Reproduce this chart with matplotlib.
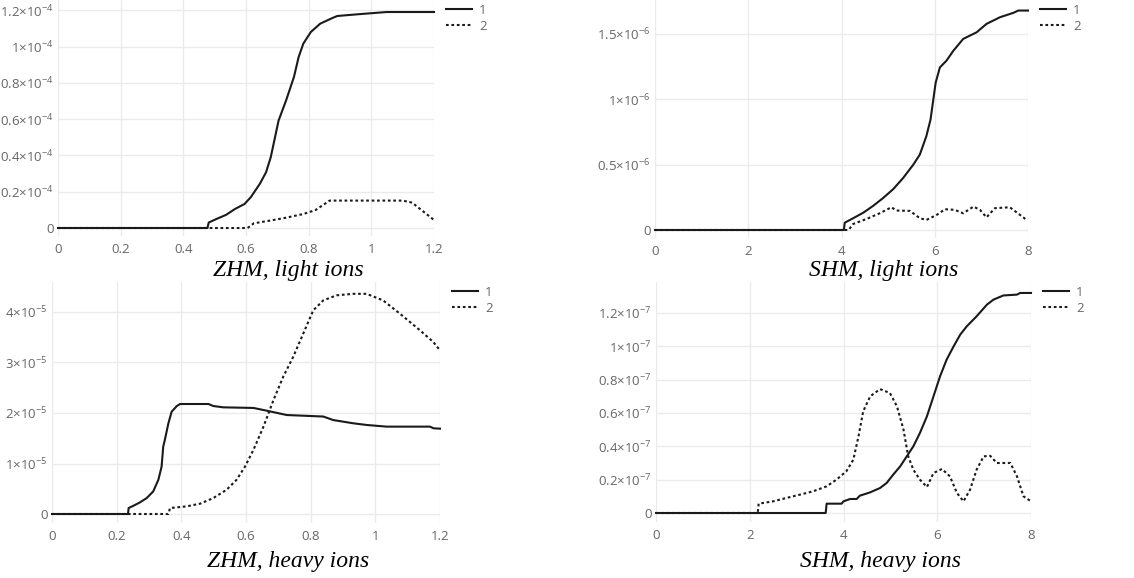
import numpy as np
import matplotlib
matplotlib.use("Agg")
import matplotlib.pyplot as plt

plt.rcParams['font.family'] = ['Open Sans', 'DejaVu Sans']
plt.rcParams['mathtext.fontset'] = 'custom'
plt.rcParams['mathtext.rm'] = 'Open Sans'
plt.rcParams['mathtext.it'] = 'Open Sans:italic'
plt.rcParams['mathtext.bf'] = 'Open Sans:bold'

# ZHM, light ions (y in units of 1e-4)
zl_x1 = [0, 0.477, 0.481, 0.506, 0.536, 0.565, 0.595, 0.615, 0.644, 0.664, 0.679, 0.704,
         0.728, 0.753, 0.768, 0.783, 0.807, 0.837, 0.872, 0.891, 0.96, 1.049, 1.2]
zl_y1 = [0, 0, 0.03, 0.05, 0.072, 0.105, 0.132, 0.169, 0.243, 0.307, 0.39, 0.592,
         0.703, 0.832, 0.942, 1.016, 1.08, 1.126, 1.154, 1.168, 1.178, 1.19, 1.19]
zl_x2 = [0, 0.605, 0.625, 0.664, 0.723, 0.783, 0.822, 0.867, 1.1, 1.13, 1.2]
zl_y2 = [0, 0, 0.026, 0.037, 0.055, 0.077, 0.099, 0.151, 0.151, 0.14, 0.044]

# SHM, light ions (y in units of 1e-6)
sl_x1 = [0, 4.05, 4.07, 4.25, 4.47, 4.68, 4.89, 5.11, 5.32, 5.54, 5.68, 5.82, 5.91, 5.97,
         6.02, 6.11, 6.25, 6.4, 6.61, 6.9, 7.11, 7.4, 7.69, 7.79, 8.0]
sl_y1 = [0, 0, 0.056, 0.09, 0.133, 0.185, 0.244, 0.313, 0.397, 0.5, 0.577, 0.718, 0.846, 1.0,
         1.128, 1.244, 1.295, 1.372, 1.462, 1.513, 1.577, 1.628, 1.662, 1.679, 1.679]
sl_x2 = [0, 4.15, 4.25, 4.54, 4.82, 5.07, 5.18, 5.47, 5.68, 5.82, 6.04, 6.22, 6.43, 6.61,
         6.83, 6.97, 7.11, 7.29, 7.61, 7.83, 7.97]
sl_y2 = [0, 0, 0.046, 0.085, 0.128, 0.174, 0.149, 0.146, 0.09, 0.077, 0.115, 0.159, 0.154,
         0.128, 0.179, 0.154, 0.097, 0.167, 0.174, 0.115, 0.077]

# ZHM, heavy ions (y in units of 1e-5)
zh_x1 = [0, 0.235, 0.237, 0.252, 0.272, 0.293, 0.313, 0.329, 0.339, 0.344, 0.349, 0.36, 0.37,
         0.386, 0.396, 0.484, 0.499, 0.53, 0.623, 0.664, 0.726, 0.839, 0.87, 0.932, 0.973,
         1.035, 1.169, 1.18, 1.2]
zh_y1 = [0, 0, 0.118, 0.164, 0.23, 0.316, 0.447, 0.678, 0.94, 1.335, 1.467, 1.796, 2.026,
         2.138, 2.178, 2.178, 2.138, 2.112, 2.1, 2.046, 1.96, 1.93, 1.86, 1.796, 1.763,
         1.73, 1.73, 1.697, 1.69]
zh_x2 = [0, 0.36, 0.365, 0.416, 0.458, 0.499, 0.54, 0.571, 0.597, 0.623, 0.654, 0.685, 0.715,
         0.746, 0.777, 0.808, 0.839, 0.88, 0.932, 0.973, 1.024, 1.076, 1.138, 1.179, 1.2]
zh_y2 = [0, 0, 0.118, 0.151, 0.204, 0.316, 0.48, 0.678, 0.94, 1.27, 1.73, 2.257, 2.717,
         3.112, 3.572, 4.033, 4.23, 4.33, 4.36, 4.36, 4.23, 3.967, 3.638, 3.408, 3.24]

# SHM, heavy ions (y in units of 1e-7)
sh_x1 = [0, 3.62, 3.64, 3.96, 4.0, 4.14, 4.28, 4.35, 4.57, 4.78, 4.92, 5.06, 5.21, 5.35, 5.49,
         5.63, 5.78, 5.92, 6.06, 6.2, 6.35, 6.49, 6.63, 6.84, 7.06, 7.2, 7.41, 7.7, 7.77, 8.0]
sh_y1 = [0, 0, 0.056, 0.056, 0.07, 0.084, 0.084, 0.104, 0.124, 0.15, 0.18, 0.23, 0.28, 0.34,
         0.4, 0.48, 0.58, 0.7, 0.82, 0.92, 1.0, 1.07, 1.12, 1.18, 1.25, 1.28, 1.305, 1.31,
         1.32, 1.32]
sh_x2 = [0, 2.17, 2.19, 2.5, 2.78, 3.07, 3.35, 3.64, 3.85, 4.06, 4.21, 4.32, 4.42, 4.57, 4.78,
         4.99, 5.14, 5.28, 5.38, 5.49, 5.63, 5.78, 5.92, 6.1, 6.27, 6.42, 6.56, 6.7, 6.84,
         6.99, 7.13, 7.27, 7.56, 7.7, 7.84, 8.0]
sh_y2 = [0, 0, 0.056, 0.07, 0.09, 0.11, 0.13, 0.16, 0.2, 0.25, 0.32, 0.46, 0.61, 0.7, 0.743,
         0.72, 0.64, 0.5, 0.34, 0.26, 0.2, 0.156, 0.24, 0.264, 0.22, 0.12, 0.07, 0.14, 0.26,
         0.34, 0.343, 0.3, 0.3, 0.22, 0.1, 0.07]

W, H = 1134, 578
fig = plt.figure(figsize=(W / 100, H / 100), dpi=100)

grey = '#666666'
serif = ['Liberation Serif', 'DejaVu Serif']


def make_panel(px0, px1, zero_px, top_px, bot_px, xmax, ticks_val, exp,
               xticks, xticklabels, px_per_unit, title, title_x, title_y,
               series, leg_x, leg_y):
    # axes placed in pixel coordinates
    ax = fig.add_axes([px0 / W, 1 - bot_px / H, (px1 - px0) / W, (bot_px - top_px) / H])
    ymax = (zero_px - top_px) / px_per_unit
    ymin = -(bot_px - zero_px) / px_per_unit
    ax.set_xlim(0, xmax)
    ax.set_ylim(ymin, ymax)
    for s in ax.spines.values():
        s.set_visible(False)
    ax.grid(True, color='#ebebeb', linewidth=1)
    ax.set_axisbelow(True)
    ax.tick_params(length=0, labelsize=9.5, colors=grey)
    ax.tick_params(axis='x', pad=5)
    ax.tick_params(axis='y', pad=3)
    ax.set_xticks(xticks)
    ax.set_xticklabels(xticklabels)
    ax.set_yticks(ticks_val)
    ylabels = []
    for v in ticks_val:
        if v == 0:
            ylabels.append('0')
        else:
            ylabels.append(r'$%s{\times}10^{-%d}$' % (('%g' % v), exp))
    ax.set_yticklabels(ylabels)
    (x1, y1), (x2, y2) = series
    h1, = ax.plot(x1, y1, color='#1a1a1a', lw=1.5, label='1', clip_on=False)
    h2, = ax.plot(x2, y2, color='#1a1a1a', lw=1.5, linestyle=(0, (1.3, 1.3)), label='2',
                  clip_on=False)
    fig.legend(handles=[h1, h2], loc='upper left',
               bbox_to_anchor=(leg_x / W, 1 - leg_y / H), frameon=False,
               fontsize=9.5, labelcolor=grey, handlelength=2.0, handletextpad=0.5,
               borderpad=0, borderaxespad=0, labelspacing=0.2)
    fig.text(title_x / W, 1 - title_y / H, title, ha='center', va='center',
             family=serif, style='italic', fontsize=17, color='black')
    return ax


make_panel(58, 434, 228, 0, 236, 1.2, [0, 0.2, 0.4, 0.6, 0.8, 1, 1.2], 4,
           [0, 0.2, 0.4, 0.6, 0.8, 1, 1.2], ['0', '0.2', '0.4', '0.6', '0.8', '1', '1.2'],
           181.5, 'ZHM, light ions', 288, 270,
           [(zl_x1, zl_y1), (zl_x2, zl_y2)], 446, 4)

make_panel(655, 1028, 230, 0, 238, 8, [0, 0.5, 1, 1.5], 6,
           [0, 2, 4, 6, 8], ['0', '2', '4', '6', '8'],
           130.7, 'SHM, light ions', 884, 270,
           [(sl_x1, sl_y1), (sl_x2, sl_y2)], 1040, 4)

make_panel(52, 440, 514, 282, 523, 1.2, [0, 1, 2, 3, 4], 5,
           [0, 0.2, 0.4, 0.6, 0.8, 1, 1.2], ['0', '0.2', '0.4', '0.6', '0.8', '1', '1.2'],
           50.5, 'ZHM, heavy ions', 288, 562,
           [(zh_x1, zh_y1), (zh_x2, zh_y2)], 452, 286)

make_panel(656, 1031, 513, 282, 522, 8, [0, 0.2, 0.4, 0.6, 0.8, 1, 1.2], 7,
           [0, 2, 4, 6, 8], ['0', '2', '4', '6', '8'],
           166.7, 'SHM, heavy ions', 880, 562,
           [(sh_x1, sh_y1), (sh_x2, sh_y2)], 1043, 286)

fig.savefig('out.png', dpi=100)
